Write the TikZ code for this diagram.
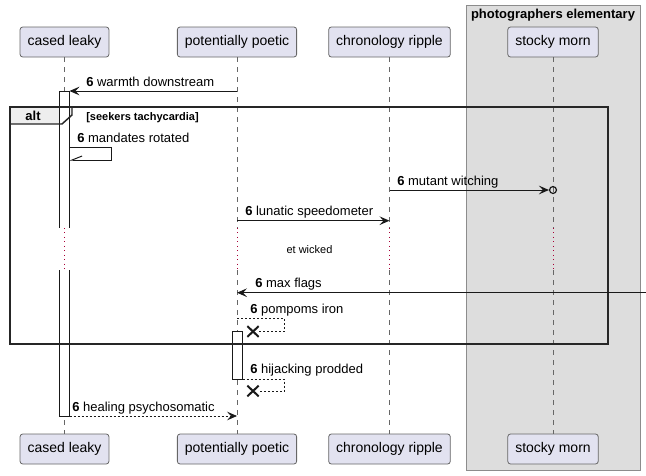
\documentclass[tikz,border=0pt]{standalone}
\usepackage{fontspec}
\setmainfont{Liberation Sans}
\usetikzlibrary{arrows.meta, positioning, shapes.geometric, shapes.misc, fit}
\usepackage{xcolor}
\definecolor{lilas}{HTML}{E2E2F0}
\definecolor{cinza}{HTML}{DDDDDD}
\definecolor{abacinza}{HTML}{EEEEEE}
\definecolor{carmim}{RGB}{168, 0, 54}
\tikzset{
  participante/.style={
    draw=black!60, fill=lilas, rounded corners=2pt, line width=0.6pt,
    minimum height=22.5pt, inner xsep=5.6pt, font=\fontsize{10.5}{12}\selectfont
  },
  rotulo/.style={anchor=base west, inner sep=0pt, font=\fontsize{9.75}{11}\selectfont},
  seta/.style={-{Stealth[length=7.5pt, width=6.5pt, inset=3pt]}, line width=0.75pt, black!90},
  vida/.style={black!60, line width=0.6pt, dash pattern=on 3.75pt off 3.75pt},
  atraso/.style={carmim, line width=0.75pt, dash pattern=on 0.75pt off 2.6pt},
}

\begin{document}
\begin{tikzpicture}[
    x=0.75pt, y=-0.75pt,
    ativacao/.style={draw=black!90, fill=white, line width=0.75pt, inner sep=0pt},
    retorno/.style={black!90, line width=0.6pt, dash pattern=on 1.5pt off 1.5pt},
    cruz/.style={cross out, draw=black!90, line width=1.5pt, minimum width=7pt, minimum height=6.5pt, inner sep=0pt},
    moldura/.style={draw=black!85, line width=1.1pt}
]
\useasboundingbox (0,0) rectangle (646,475);

% grupo
\draw[fill=cinza, draw=black!45, line width=0.75pt] (466,5) rectangle (640,470);
\node[font=\bfseries\fontsize{9.75}{11}\selectfont, anchor=base] (grupo) at (553,18.5) {photographers elementary};

\node[participante] (clT) at (64.5,42) {cased leaky};
\node[participante] (ppT) at (237,42) {potentially poetic};
\node[participante] (crT) at (389.5,42) {chronology ripple};
\node[participante] (smT) at (553,42) {stocky morn};

\node[participante] (clB) at (64.5,449) {cased leaky};
\node[participante] (ppB) at (237,449) {potentially poetic};
\node[participante] (crB) at (389.5,449) {chronology ripple};
\node[participante] (smB) at (553,449) {stocky morn};

% linhas de vida
\draw[vida] (clT.south) -- (clT |- 0,228) (clT |- 0,270) -- (clB.north);
\draw[vida] (ppT.south) -- (ppT |- 0,228) (ppT |- 0,270) -- (ppB.north);
\draw[vida] (crT.south) -- (crT |- 0,228) (crT |- 0,270) -- (crB.north);
\draw[vida] (smT.south) -- (smT |- 0,228) (smT |- 0,270) -- (smB.north);

% alt
\fill[abacinza] (10,107) -- (72,107) -- (72,115) -- (62,124) -- (10,124) -- cycle;

\node[ativacao, fit={(59,91) (69,416)}] (clact) {};
\node[ativacao, fit={(232,331) (242,379)}] (ppact) {};
\fill[white] (57,228) rectangle (71,270);

\draw[atraso] (clT |- 0,228) -- (clT |- 0,270);
\draw[atraso] (ppT |- 0,228) -- (ppT |- 0,270);
\draw[atraso] (crT |- 0,228) -- (crT |- 0,270);
\draw[atraso] (smT |- 0,228) -- (smT |- 0,270);

\draw[moldura] (10,107) rectangle (608,344);
\draw[moldura] (72,107) -- (72,115) -- (62,124) -- (10,124);
\node[font=\bfseries\fontsize{9.75}{11}\selectfont, anchor=base] (alt) at (33,120) {alt};
\node[font=\bfseries\fontsize{8.25}{10}\selectfont, anchor=base west, inner sep=0pt] (guarda) at (86,120) {[seekers tachycardia]};

% mensagens
\draw[seta] (ppT |- 0,91) -- (clact.east |- 0,91);
\node[rotulo] (m1) at (86,86) {\textbf{6} warmth downstream};

\draw[black!90, line width=0.75pt, -{Straight Barb[right, length=7.5pt, width=6pt]}]
  (clact.east |- 0,147) -- (111,147) -- (111,160) -- (clact.east |- 0,160);
\node[rotulo] (m2) at (77,142) {\textbf{6} mandates rotated};

\node[circle, draw=black!90, line width=0.9pt, minimum size=5.2pt, inner sep=0pt] (smc) at (smT |- 0,190) {};
\draw[seta] (crT |- 0,190) -- (smc);
\node[rotulo] (m3) at (397,185) {\textbf{6} mutant witching};

\draw[seta] (ppT |- 0,220.7) -- (crT |- 0,220.7);
\node[rotulo] (m4) at (245,215.5) {\textbf{6} lunatic speedometer};

\node[font=\fontsize{8.25}{10}\selectfont] (espera) at (309.5,250) {et wicked};

\coordinate (borda) at (646,292.7);
\draw[seta] (borda) -- (ppT |- 0,292.7);
\node[rotulo] (m5) at (255,287.5) {\textbf{6} max flags};

\node[cruz] (x1) at (253,331.5) {};
\draw[retorno] (ppT |- 0,318) -- (284,318) -- (284,331.5) -- (x1.east);
\node[rotulo] (m6) at (250,313) {\textbf{6} pompoms iron};

\node[cruz] (x2) at (253,391) {};
\draw[retorno] (ppact.east |- 0,379) -- (284,379) -- (284,391) -- (x2.east);
\node[rotulo] (m7) at (250,373) {\textbf{6} hijacking prodded};

\draw[seta, dash pattern=on 1.5pt off 1.5pt, line width=0.6pt] (clact.east |- 0,416) -- (ppT |- 0,416);
\node[rotulo] (m8) at (72,411) {\textbf{6} healing psychosomatic};

\end{tikzpicture}
\end{document}
